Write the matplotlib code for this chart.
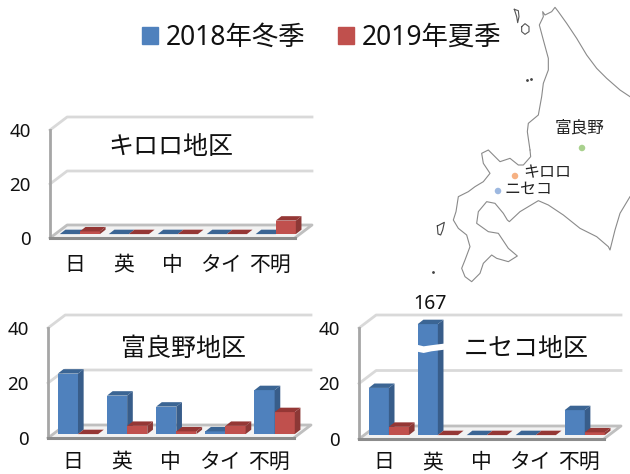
import matplotlib
matplotlib.use('Agg')
import matplotlib.pyplot as plt
from matplotlib.patches import Patch

plt.rcParams['font.family'] = ['Noto Sans', 'Noto Sans CJK JP', 'DejaVu Sans']

categories = ['日', '英', '中', 'タイ', '不明']
series_names = ['2018年冬季', '2019年夏季']
y_ticks = [0, 20, 40]

kiroro_winter = [0, 0, 0, 0, 0]
kiroro_summer = [1, 0, 0, 0, 5]
furano_winter = [22, 14, 10, 1, 16]
furano_summer = [0, 3, 1, 3, 8]
niseko_winter = [17, 167, 0, 0, 9]
niseko_summer = [3, 0, 0, 0, 1]
axis_cap = 40  # the 167 bar is cut off at the top of the axis

# coastline, traced in crop coordinates of the map
north_x = [630, 600, 560, 530, 500, 470, 440, 415, 405, 395, 375, 368, 370, 358, 370, 385, 385, 370, 365, 355, 325, 322, 330]
north_y = [290, 270, 235, 205, 165, 115, 70, 35, 22, 35, 45, 35, 50, 75, 120, 175, 210, 250, 290, 345, 370, 395, 450]
south_x = [330, 332, 310, 295, 270, 240, 205, 185, 190, 210, 190, 165, 145, 115, 108, 100, 115, 140, 150, 135, 125, 135, 155, 180, 190, 215, 230, 265, 292, 265, 235, 205, 170, 175, 200, 225, 250, 262, 268, 300, 355, 385, 430, 480, 530, 565, 570, 585, 600, 630]
south_y = [30, 50, 75, 75, 55, 65, 30, 40, 70, 100, 125, 140, 155, 170, 215, 240, 265, 285, 320, 360, 385, 410, 425, 400, 370, 345, 355, 365, 348, 325, 280, 275, 250, 215, 185, 190, 220, 240, 245, 215, 182, 195, 225, 265, 290, 320, 330, 270, 220, 170]
rishiri_x = [305, 315, 327, 327, 315, 305, 305]
rishiri_y = [80, 71, 80, 95, 103, 95, 80]
rebun_x = [283, 295, 297, 293, 290, 283]
rebun_y = [28, 32, 50, 68, 50, 28]
okushiri_x = [52, 73, 68, 62, 54, 52]
okushiri_y = [258, 247, 270, 285, 282, 258]

towns = ['ニセコ', 'キロロ', '富良野']
town_x = [498, 515, 582]
town_y = [191, 176, 148]
town_colors = ['#9DB8E0', '#F6B183', '#A9D18E']

BLUE = ('#4F81BD', '#385D8A', '#3B6594')
RED = ('#C0504D', '#8C3836', '#953735')
W, H = 630, 474
DEPTH_X = 0.35
BAR_W = 0.41


def draw_bar(ax, x, value, colors, dy, order):
    #front face, then the side and the top that make it look 3d
    bx = 0.115
    by = dy * 0.34
    base = dy * 0.3
    ax.bar(x, value, BAR_W, bottom=base, align='edge', color=colors[0], zorder=order)
    top = value + base
    ax.fill([x + BAR_W, x + BAR_W + bx, x + BAR_W + bx, x + BAR_W], [base, base + by, top + by, top], color=colors[1], lw=0, zorder=order)
    ax.fill([x, x + bx, x + BAR_W + bx, x + BAR_W], [top, top + by, top + by, top], color=colors[2], lw=0, zorder=order)


def draw_panel(x0, x1, y40, y0, title, title_x, title_y, winter, summer, label_pad):
    #axes corners in pixels: value 0 sits on the bottom edge, 46 near the top
    scale = (y0 - y40) / 40
    top_px = y0 - 46 * scale
    ax = fig.add_axes([x0 / W, 1 - y0 / H, (x1 + 18 - x0) / W, (y0 - top_px) / H])
    ax.set_xlim(0, 5 + DEPTH_X)
    ax.set_ylim(0, 46)
    ax.patch.set_visible(False)
    for s in ax.spines.values():
        s.set_visible(False)
    dy = 13 / scale

    for v in y_ticks[1:]:
        ax.plot([0, DEPTH_X, 5 + DEPTH_X], [v, v + dy, v + dy], color='#D9D9D9', lw=2, clip_on=False, zorder=1)
    ax.fill([0, 5, 5 + DEPTH_X, DEPTH_X], [0, 0, dy, dy], color='#F2F2F2', lw=0, zorder=1)
    ax.plot([0, DEPTH_X, 5 + DEPTH_X, 5], [0, dy, dy, 0], color='#BFBFBF', lw=2, clip_on=False, zorder=1)
    ax.plot([0, 0], [40, 0], color='#A6A6A6', lw=2, clip_on=False, zorder=2)
    ax.plot([0, 5], [0, 0], color='#8C8C8C', lw=2.2, clip_on=False, zorder=2)

    for i in range(len(categories)):
        x = i + 0.2
        draw_bar(ax, x, min(winter[i], axis_cap), BLUE, dy, 3 + i)
        draw_bar(ax, x + BAR_W, min(summer[i], axis_cap), RED, dy, 3 + i)
        if winter[i] > axis_cap:
            #break mark on the cut off bar
            ax.fill([x - 0.02, x + 0.12, x + 0.28, x + BAR_W + 0.14, x + BAR_W + 0.14, x + 0.28, x + 0.12, x - 0.02],
                    [31.5, 31, 31.6, 32.2, 34.4, 33.8, 33.4, 34],
                    color='white', lw=0, zorder=20)
            ax.text(x + 0.26, axis_cap + dy + 0.5, str(winter[i]), ha='center', va='bottom', fontsize=14, color='#111111', clip_on=False)

    ax.set_xticks([i + 0.5 for i in range(5)], categories, fontsize=15, color='#111111')
    ax.set_yticks(y_ticks, [str(v) for v in y_ticks], fontsize=13.5, color='#111111')
    ax.tick_params(axis='x', length=0, pad=label_pad)
    ax.tick_params(axis='y', length=0, pad=14)
    fig.text(title_x / W, 1 - title_y / H, title, ha='center', va='center', fontsize=18, color='#111111')


fig = plt.figure(figsize=(6.3, 4.74), dpi=100)

draw_panel(50, 294, 130, 238, 'キロロ地区', 171, 147, kiroro_winter, kiroro_summer, 12)
draw_panel(48, 293, 328, 438, '富良野地区', 183, 349, furano_winter, furano_summer, 10)
draw_panel(359, 603, 328, 439, 'ニセコ地区', 526, 349, niseko_winter, niseko_summer, 9.5)

#map, axes in picture pixels
m = fig.add_axes([0, 0, 1, 1], zorder=-1)
m.set_xlim(0, W)
m.set_ylim(H, 0)
m.axis('off')
coast = '#8A8A8A'
m.plot([420 + v / 3 for v in north_x], [v / 3 for v in north_y], color=coast, lw=0.8)
m.plot([420 + v / 3 for v in south_x], [140 + v / 3 for v in south_y], color=coast, lw=0.8)
m.plot([420 + v / 3 for v in rishiri_x], [v / 3 for v in rishiri_y], color='#555555', lw=0.8)
m.plot([420 + v / 3 for v in rebun_x], [v / 3 for v in rebun_y], color='#555555', lw=0.8)
m.plot([420 + v / 3 for v in okushiri_x], [140 + v / 3 for v in okushiri_y], color='#444444', lw=0.8)
m.plot([527, 531], [79.5, 79], ls='none', marker='.', ms=2, color='#444444')
m.plot([433], [271.5], ls='none', marker='.', ms=2, color='#444444')
m.scatter(town_x, town_y, s=22, color=town_colors, lw=0, zorder=3)
m.text(523, 173.5, towns[1], ha='left', va='center', fontsize=11.5, color='#222222')
m.text(505, 190, towns[0], ha='left', va='center', fontsize=11.5, color='#222222')
m.text(580, 128, towns[2], ha='center', va='center', fontsize=12, color='#222222')

handles = [Patch(color=BLUE[0], label=series_names[0]), Patch(color=RED[0], label=series_names[1])]
fig.legend(handles=handles, loc='center', bbox_to_anchor=(322 / W, 1 - 38 / H), ncols=2, frameon=False,
           fontsize=19, handlelength=0.6, handleheight=0.6, handletextpad=0.3, columnspacing=1.25, labelcolor='#111111')

fig.savefig('out.png', dpi=100)
